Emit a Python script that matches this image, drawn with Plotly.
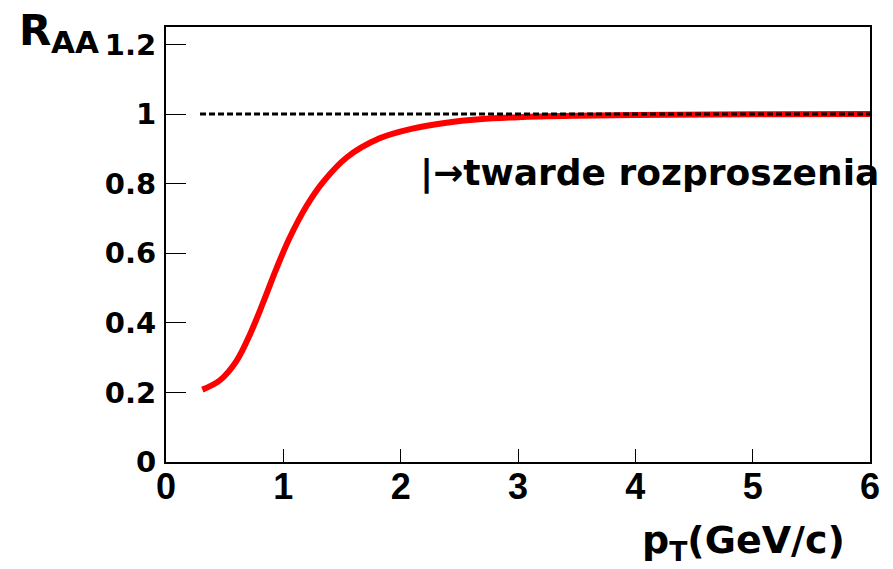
import plotly.graph_objects as go

# Curve: R_AA vs pT
pt = [0.31, 0.46, 0.60, 0.72, 0.83, 0.94, 1.055, 1.20, 1.34, 1.54, 1.82, 2.10, 2.39, 2.67, 3.0, 3.5, 4.0, 5.0, 6.0]
raa = [0.208, 0.235, 0.29, 0.37, 0.46, 0.555, 0.645, 0.737, 0.805, 0.875, 0.93, 0.958, 0.975, 0.985, 0.991, 0.995, 0.997, 0.999, 1.0]

# Reference line at R_AA = 1
ref_x = [0.29, 6.0]
ref_y = [1.0, 1.0]

x_ticks = [0, 1, 2, 3, 4, 5, 6]
x_ticktext = ["0", "1", "2", "3", "4", "5", "6"]
y_ticks = [0, 0.2, 0.4, 0.6, 0.8, 1.0, 1.2]
y_ticktext = ["0", "0.2", "0.4", "0.6", "0.8", "1", "1.2"]

fig = go.Figure()
fig.add_trace(go.Scatter(x=pt, y=raa, mode="lines",
                         line=dict(color="#ff0000", width=6, shape="spline", smoothing=1.0),
                         showlegend=False))
fig.add_trace(go.Scatter(x=ref_x, y=ref_y, mode="lines",
                         line=dict(color="black", width=3, dash="6px,3px"),
                         hoverinfo="skip", showlegend=False))

xfont = dict(family="Liberation Sans, Arial, sans-serif", size=36, color="black", weight="bold")
yfont = dict(family="DejaVu Sans, sans-serif", size=29, color="black", weight="bold")
big = "DejaVu Sans, sans-serif"

fig.update_layout(
    width=893, height=569,
    margin=dict(l=166, r=23, t=27, b=107),
    paper_bgcolor="white", plot_bgcolor="white",
    xaxis=dict(range=[0, 6], tickvals=x_ticks, ticktext=x_ticktext,
               ticks="inside", ticklen=13, tickwidth=1, tickcolor="black",
               showline=True, linecolor="black", linewidth=2, mirror=True,
               showgrid=False, zeroline=False, tickfont=xfont, ticklabelstandoff=-8),
    yaxis=dict(range=[0, 1.25], tickvals=y_ticks, ticktext=y_ticktext,
               ticks="inside", ticklen=20, tickwidth=1, tickcolor="black",
               showline=True, linecolor="black", linewidth=2, mirror=True,
               showgrid=False, zeroline=False, tickfont=yfont, ticklabelstandoff=2),
    annotations=[
        dict(text="R", xref="paper", yref="paper",
             x=-0.212, y=0.993, xanchor="left", yanchor="middle", showarrow=False,
             font=dict(family=big, size=42, color="black", weight="bold")),
        dict(text="AA", xref="paper", yref="paper",
             x=-0.166, y=0.966, xanchor="left", yanchor="middle", showarrow=False,
             font=dict(family=big, size=31, color="black", weight="bold")),
        dict(text="p<sub>T</sub>(GeV/c)", xref="paper", yref="paper",
             x=0.674, y=-0.184, xanchor="left", yanchor="middle", showarrow=False,
             font=dict(family=big, size=38, color="black", weight="bold")),
        dict(text="|→twarde rozproszenia", xref="paper", yref="paper",
             x=0.358, y=0.664, xanchor="left", yanchor="middle", showarrow=False,
             font=dict(family=big, size=36, color="black", weight="bold")),
    ],
)

fig.write_html("out.html")
